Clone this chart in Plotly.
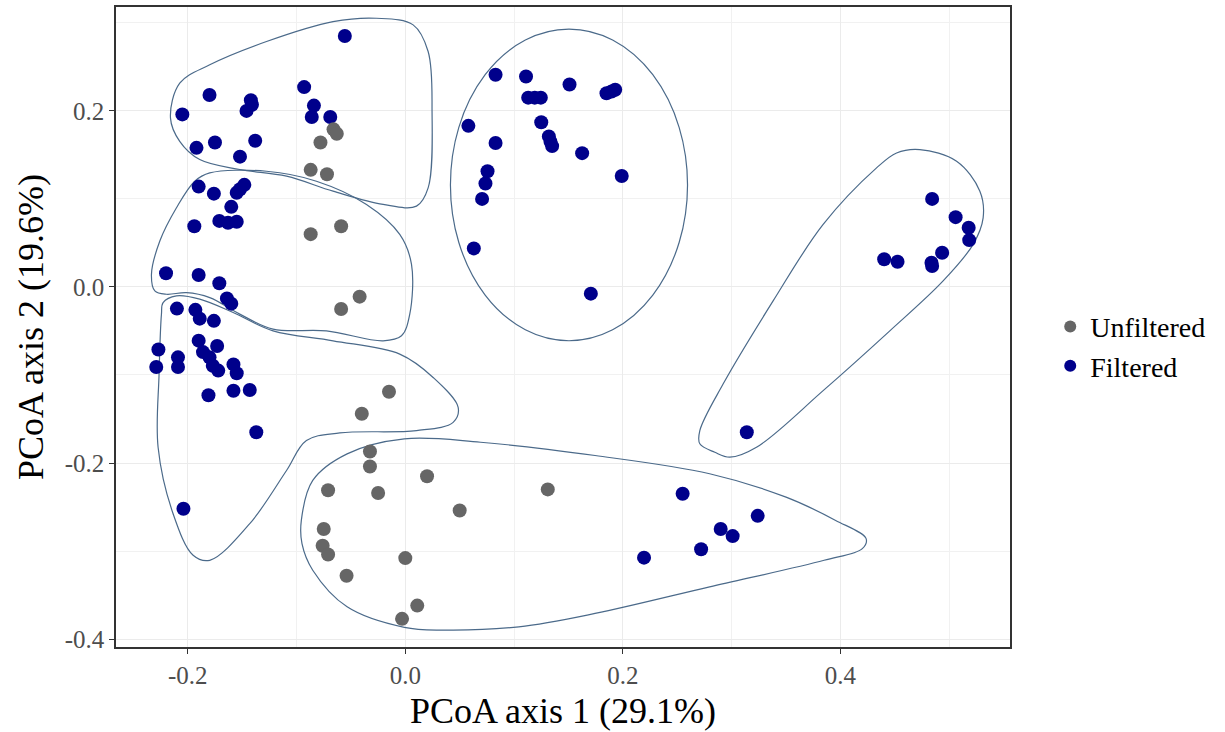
import plotly.graph_objects as go

# PCoA scores, unfiltered samples
unfiltered_x = [-0.066, -0.063, -0.078, -0.087, -0.072, -0.087, -0.059, -0.059, -0.042,
                -0.015, -0.040, -0.0325, -0.0325, -0.071, -0.025, 0.020, 0.050, 0.131,
                -0.075, -0.076, -0.071, 0.000, -0.054, 0.011, -0.003]
unfiltered_y = [0.179, 0.174, 0.164, 0.133, 0.128, 0.060, 0.069, -0.025, -0.011,
                -0.119, -0.144, -0.187, -0.204, -0.231, -0.234, -0.215, -0.254, -0.230,
                -0.275, -0.294, -0.304, -0.308, -0.328, -0.362, -0.377]

# PCoA scores, filtered samples
filtered_x = [
    -0.0556, -0.093, -0.180, -0.142, -0.141, -0.146, -0.205, -0.084, -0.086, -0.069,
    -0.192, -0.175, -0.138, -0.152,
    -0.190, -0.176, -0.148, -0.152, -0.155, -0.160, -0.194, -0.171, -0.163, -0.155,
    -0.220, -0.190, -0.171, -0.164, -0.160,
    -0.210, -0.193, -0.189, -0.176, -0.190, -0.173, -0.186, -0.180, -0.177, -0.172,
    -0.227, -0.229, -0.209, -0.209, -0.158, -0.155, -0.181, -0.158, -0.143, -0.137,
    -0.204,
    0.083, 0.111, 0.151, 0.113, 0.119, 0.1246, 0.185, 0.1896, 0.193, 0.125, 0.132,
    0.1335, 0.135, 0.058, 0.083, 0.1626, 0.199, 0.0756, 0.0737, 0.0706, 0.063, 0.1706,
    0.4844, 0.506, 0.518, 0.5185, 0.4936, 0.4838, 0.4844, 0.4403, 0.4526, 0.314,
    0.255, 0.324, 0.290, 0.301, 0.272, 0.2195,
]
filtered_y = [
    0.285, 0.227, 0.218, 0.212, 0.207, 0.200, 0.196, 0.206, 0.193, 0.193,
    0.158, 0.164, 0.166, 0.148,
    0.114, 0.106, 0.116, 0.111, 0.107, 0.091, 0.069, 0.075, 0.073, 0.074,
    0.0155, 0.0136, 0.0042, -0.013, -0.019,
    -0.0246, -0.026, -0.036, -0.0385, -0.061, -0.067, -0.074, -0.080, -0.0895, -0.095,
    -0.071, -0.091, -0.080, -0.091, -0.088, -0.098, -0.123, -0.118, -0.117, -0.165,
    -0.252,
    0.241, 0.239, 0.230, 0.215, 0.215, 0.215, 0.220, 0.222, 0.224, 0.187, 0.171,
    0.165, 0.160, 0.183, 0.1635, 0.152, 0.126, 0.1314, 0.1175, 0.100, 0.0438, -0.0076,
    0.100, 0.0793, 0.0672, 0.0532, 0.0389, 0.0275, 0.0238, 0.0314, 0.0287, -0.165,
    -0.235, -0.260, -0.275, -0.283, -0.298, -0.3075,
]

# Cluster outlines (closed smooth curves through these vertices, data units)
cluster_a_x = [-0.2159, -0.2074, -0.1798, -0.1276, -0.0664, -0.0265, 0.0072, 0.0210, 0.0246,
               0.0210, 0.0103, -0.0204, -0.0664, -0.1092, -0.1522, -0.1890, -0.2074]
cluster_a_y = [0.1918, 0.2315, 0.2524, 0.2788, 0.3014, 0.3052, 0.2977, 0.2674, 0.1994,
               0.1125, 0.0918, 0.0937, 0.1088, 0.1258, 0.1334, 0.1447, 0.1654]

cluster_b_x = [-0.1936, -0.1798, -0.1276, -0.0817, -0.0357, -0.0051, 0.0057, 0.0041, -0.0035,
               -0.0204, -0.0725, -0.1216, -0.1522, -0.1798, -0.2012, -0.2196, -0.2303,
               -0.2334, -0.2257, -0.2104]
cluster_b_y = [0.1201, 0.1295, 0.1314, 0.1201, 0.0937, 0.0597, 0.0257, -0.0309, -0.0555,
               -0.0612, -0.0499, -0.0479, -0.0309, -0.0121, -0.0065, -0.0083, -0.0045,
               0.0144, 0.0521, 0.0899]

cluster_c_x = [-0.2227, -0.2104, -0.1890, -0.1583, -0.1216, -0.0664, -0.0051, 0.0256, 0.0486,
               0.0440, 0.0103, -0.0602, -0.0909, -0.1092, -0.1430, -0.1798, -0.1951,
               -0.2135, -0.2273, -0.2264, -0.2242]
cluster_c_y = [-0.0178, -0.0102, -0.0139, -0.0291, -0.0499, -0.0612, -0.0763, -0.1028, -0.1368,
               -0.1538, -0.1632, -0.1658, -0.1745, -0.2085, -0.2689, -0.3105, -0.3048,
               -0.2576, -0.1821, -0.0989, -0.0309]

cluster_d_x = [-0.0956, -0.0851, -0.0535, -0.0009, 0.0692, 0.1745, 0.2798, 0.3501, 0.3957,
               0.4237, 0.4202, 0.3851, 0.2798, 0.1745, 0.1044, 0.0342, -0.0009, -0.0535,
               -0.0851, -0.0950]
cluster_d_y = [-0.2652, -0.2198, -0.1896, -0.1726, -0.1764, -0.1915, -0.2122, -0.2388, -0.2652,
               -0.2859, -0.2972, -0.3105, -0.3407, -0.3709, -0.3861, -0.3898, -0.3867,
               -0.3634, -0.3218, -0.2916]

cluster_e_x = [0.4731, 0.5069, 0.5283, 0.5313, 0.5221, 0.4945, 0.4455, 0.3842, 0.3229, 0.2984,
               0.2846, 0.2708, 0.2708, 0.2922, 0.3382, 0.3842, 0.4333, 0.4517]
cluster_e_y = [0.1560, 0.1428, 0.1088, 0.0785, 0.0484, 0.0068, -0.0499, -0.1178, -0.1821,
               -0.1934, -0.1878, -0.1782, -0.1632, -0.1103, -0.0159, 0.0710, 0.1352, 0.1522]

# Elliptical outline: centre and semi-axes
ellipse_center = (0.1505, 0.1159)
ellipse_radii = (0.109, 0.177)

x_range = [-0.266, 0.556]
y_range = [-0.409, 0.318]

OUTLINE_COLOR = "#4B6A8A"
FONT = "Liberation Serif"

fig = go.Figure()

for ox, oy in [(cluster_a_x, cluster_a_y), (cluster_b_x, cluster_b_y),
               (cluster_c_x, cluster_c_y), (cluster_d_x, cluster_d_y),
               (cluster_e_x, cluster_e_y)]:
    fig.add_trace(go.Scatter(
        x=ox + ox[:1], y=oy + oy[:1], mode="lines",
        line=dict(color=OUTLINE_COLOR, width=1.2, shape="spline", smoothing=1.0),
        hoverinfo="skip", showlegend=False,
    ))

cx, cy = ellipse_center
rx, ry = ellipse_radii
fig.add_shape(type="circle", xref="x", yref="y",
              x0=cx - rx, x1=cx + rx, y0=cy - ry, y1=cy + ry,
              line=dict(color=OUTLINE_COLOR, width=1.2), layer="between")

fig.add_trace(go.Scatter(
    x=filtered_x, y=filtered_y, mode="markers", name="Filtered",
    marker=dict(color="#00008B", size=14, line=dict(width=0)),
    legendrank=2,
))
fig.add_trace(go.Scatter(
    x=unfiltered_x, y=unfiltered_y, mode="markers", name="Unfiltered",
    marker=dict(color="#666666", size=14, line=dict(width=0)),
    legendrank=1,
))

axis_common = dict(
    showgrid=True, gridcolor="#EBEBEB", gridwidth=1.2,
    zeroline=False,
    showline=True, linecolor="#333333", linewidth=1.5, mirror=True,
    ticks="outside", ticklen=5, tickcolor="#333333", tickwidth=1.2,
    tickfont=dict(family=FONT, size=25, color="#4D4D4D"),
)

fig.update_xaxes(
    range=x_range, tickvals=[-0.2, 0.0, 0.2, 0.4], ticktext=["-0.2", "0.0", "0.2", "0.4"],
    minor=dict(tickvals=[-0.1, 0.1, 0.3, 0.5], showgrid=True, gridcolor="#F1F1F1",
               gridwidth=1, ticks=""),
    title=dict(text="PCoA axis 1 (29.1%)", font=dict(family=FONT, size=36, color="#000000"),
               standoff=10),
    **axis_common,
)
fig.update_yaxes(
    range=y_range, tickvals=[-0.4, -0.2, 0.0, 0.2], ticktext=["-0.4", "-0.2", "0.0", "0.2"],
    minor=dict(tickvals=[-0.3, -0.1, 0.1, 0.3], showgrid=True, gridcolor="#F1F1F1",
               gridwidth=1, ticks=""),
    title=dict(text="PCoA axis 2 (19.6%)", font=dict(family=FONT, size=36, color="#000000"),
               standoff=10),
    **axis_common,
)

fig.update_layout(
    width=1225, height=732,
    margin=dict(l=116, r=215, t=5, b=85),
    paper_bgcolor="white", plot_bgcolor="white",
    showlegend=True,
    legend=dict(x=1.045, y=0.47, xanchor="left", yanchor="middle",
                font=dict(family=FONT, size=28, color="#000000"),
                bgcolor="rgba(0,0,0,0)", itemsizing="constant"),
)

fig.write_html("out.html")
